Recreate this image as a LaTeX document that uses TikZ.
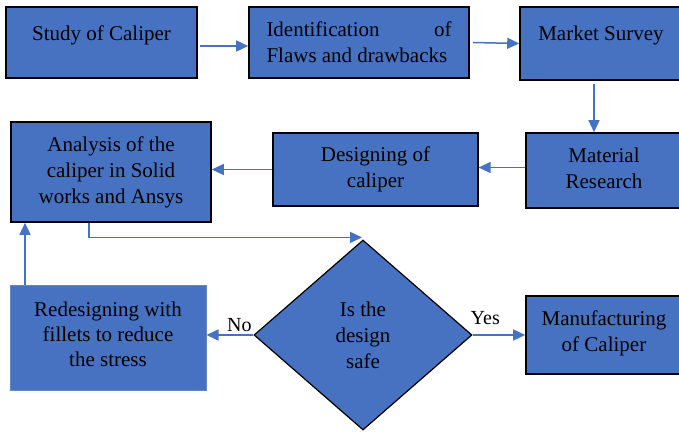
\documentclass[tikz,border=0pt]{standalone}
\usepackage{fontspec}
\setmainfont{Liberation Serif}
\usetikzlibrary{shapes.geometric,arrows.meta}
\definecolor{boxblue}{HTML}{4672C1}
\definecolor{arrblue}{HTML}{4472C4}
\tikzset{
  x=1pt, y=-1pt,
  box/.style={draw=black, line width=1.6pt, fill=boxblue, inner sep=0pt, align=center,
    font=\fontsize{21}{26}\selectfont},
  arr/.style={draw=arrblue, line width=1.5pt, -{Triangle[length=12pt,width=11pt]}},
  lab/.style={font=\fontsize{20}{24}\selectfont, inner sep=1pt}
}
\begin{document}
\begin{tikzpicture}
\useasboundingbox (0,0) rectangle (679,431);
\clip (0,0) rectangle (679,431);
\node[box, minimum width=191pt, minimum height=71pt,
  label={[font=\fontsize{21}{26}\selectfont, yshift=7.5pt]center:Study of Caliper}] (study) at (101.5,42.5) {};
\node[box, minimum width=220pt, minimum height=71pt] (ident) at (359,42.5)
  {\parbox{185pt}{Identification\hfill of\\Flaws and drawbacks}};
\node[box, minimum width=162pt, minimum height=73pt,
  label={[font=\fontsize{21}{26}\selectfont, yshift=8.5pt]center:Market Survey}] (market) at (601,43.5) {};
\node[box, minimum width=156pt, minimum height=75pt,
  label={[font=\fontsize{21}{26}\selectfont, align=center, yshift=2pt]center:Material\\Research}] (material) at (604,170.5) {};
\node[box, line width=1.2pt, minimum width=205pt, minimum height=73pt] (designing) at (375.5,169.5) {Designing of\\caliper};
\node[box, minimum width=200pt, minimum height=100pt] (analysis) at (111,172) {Analysis of the\\caliper in Solid\\works and Ansys};
\node[box, draw=boxblue!85!white, line width=1pt, minimum width=196pt, minimum height=105pt,
  label={[font=\fontsize{21}{25}\selectfont, align=center, yshift=3.5pt]center:Redesigning with\\fillets to reduce\\the stress}] (redesign) at (108,337.5) {};
\node[box, diamond, line width=1.2pt, minimum width=218pt, minimum height=190pt] (dia) at (363,335) {Is the\\design\\safe};
\node[box, minimum width=156pt, minimum height=78pt,
  label={[font=\fontsize{21}{26}\selectfont, align=center, yshift=2pt]center:Manufacturing\\of Caliper}] (manuf) at (604,335) {};

\draw[arr] ([xshift=2pt,yshift=-3.5pt]study.east) -- ([yshift=-3.5pt]ident.west);
\draw[arr] ([xshift=3pt]ident.east) -- (market.west);
\draw[arr] ([xshift=-7pt,yshift=-3pt]market.south) -- ([xshift=-10pt]material.north);
\draw[arr] ([yshift=3pt]material.west) -- ([yshift=3pt]material.west -| designing.east);
\draw[arr] (designing.west) -- (designing.west -| analysis.east);
\draw[arr] ([xshift=-22pt]analysis.south) |- ([xshift=-1pt,yshift=2pt]dia.north);
\draw[arr] ([xshift=-83pt]redesign.north) -- ([xshift=-83pt]redesign.north |- analysis.south);
\draw[arr] (dia.west) -- node[lab, pos=0.3, above, yshift=2pt] {No} (dia.west -| redesign.east);
\draw[arr] (dia.east) -- node[lab, pos=0.24, above, yshift=9pt] {Yes} (dia.east -| manuf.west);
\end{tikzpicture}
\end{document}
